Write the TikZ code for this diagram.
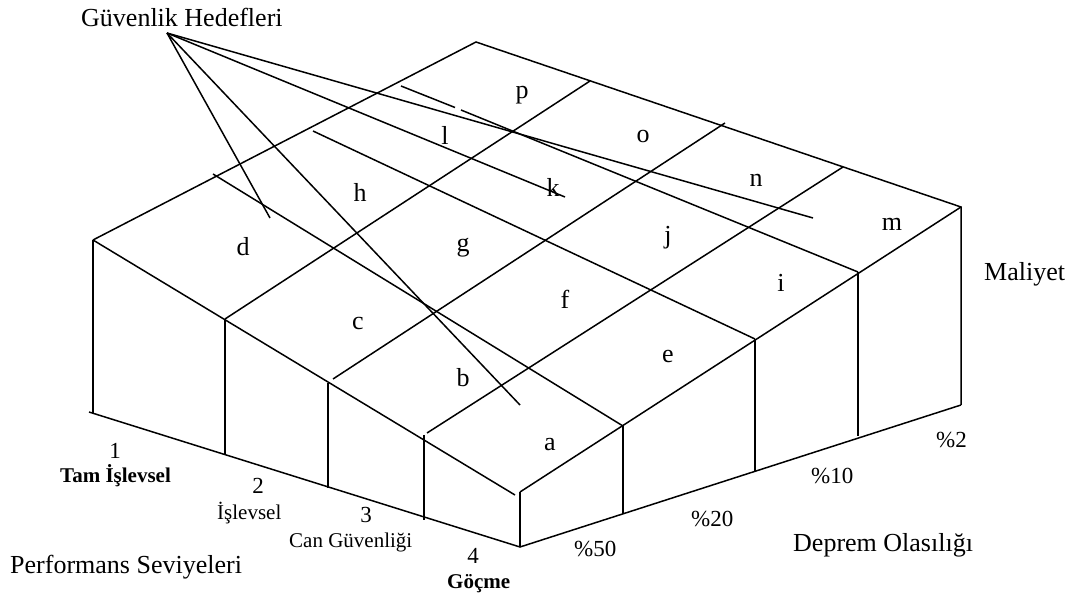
\documentclass[tikz,border=0pt]{standalone}
\usepackage{fontspec}
\setmainfont{Liberation Serif}
\begin{document}
\begin{tikzpicture}[x=1pt,y=-1pt,
  ln/.style={line width=1.5pt},
  big/.style={font=\fontsize{26}{30}\selectfont, inner sep=0pt},
  cell/.style={font=\fontsize{26}{30}\selectfont, inner sep=0pt, anchor=center},
  num/.style={font=\fontsize{23}{27}\selectfont, inner sep=0pt},
  small/.style={font=\fontsize{21}{25}\selectfont, inner sep=0pt},
  smallb/.style={font=\fontsize{21}{25}\selectfont\bfseries, inner sep=0pt}]
\useasboundingbox (0,0) rectangle (1072,601);
% corners
\coordinate (L) at (93,240);
\coordinate (Lb) at (93,413);
\coordinate (Lb0) at (89,412);
\coordinate (Bk) at (476,42);
\coordinate (R) at (961,207);
\coordinate (Rb) at (961,405);
\coordinate (F) at (520,492);
\coordinate (Fl) at (515,495);
\coordinate (Fb) at (520,547);
% left face verticals
\coordinate (v1t) at (225,319); \coordinate (v1b) at (225,454);
\coordinate (v2t) at (328,383); \coordinate (v2b) at (328,488);
\coordinate (v3t) at (424,435); \coordinate (v3b) at (424,520);
% right face verticals
\coordinate (w1t) at (623,426); \coordinate (w1b) at (623,514);
\coordinate (w2t) at (755,339); \coordinate (w2b) at (755,472);
\coordinate (w3t) at (858,272); \coordinate (w3b) at (858,436);
% grid line ends
\coordinate (p1s) at (225,319); \coordinate (p1e) at (590,81);
\coordinate (p2s) at (333,379); \coordinate (p2e) at (725,123);
\coordinate (p3s) at (427,433); \coordinate (p3e) at (843,167);
\coordinate (q1s) at (213,174); \coordinate (q1e) at (623,426);
\coordinate (q2s) at (313,131); \coordinate (q2e) at (755,339);
\coordinate (q3s) at (401,86);  \coordinate (q3g1) at (455,107.5);
\coordinate (q3g2) at (461,110); \coordinate (q3e) at (858,272);
% leader lines
\coordinate (apex) at (167,33);
\coordinate (tA) at (270,218);
\coordinate (tB) at (520,405);
\coordinate (tC) at (565,197);
\coordinate (tD) at (813,218);

% outline
\draw[ln] (L) -- (Bk) -- (R) -- (Rb);
\draw[ln] (L) -- (Lb);
\draw[ln] (L) -- (Fl);
\draw[ln] (F) -- (R);
\draw[ln] (F) -- (Fb);
\draw[ln] (Lb0) -- (Fb) -- (Rb);
\draw[ln] (v1t) -- (v1b);
\draw[ln] (v2t) -- (v2b);
\draw[ln] (v3t) -- (v3b);
\draw[ln] (w1t) -- (w1b);
\draw[ln] (w2t) -- (w2b);
\draw[ln] (w3t) -- (w3b);
% grid
\draw[ln] (p1s) -- (p1e);
\draw[ln] (p2s) -- (p2e);
\draw[ln] (p3s) -- (p3e);
\draw[ln] (q1s) -- (q1e);
\draw[ln] (q2s) -- (q2e);
\draw[ln] (q3s) -- (q3g1);
\draw[ln] (q3g2) -- (q3e);
% leaders
\draw[ln] (apex) -- (tA);
\draw[ln] (apex) -- (tB);
\draw[ln] (apex) -- (tC);
\draw[ln] (apex) -- (tD);

% cell labels
\node[cell] (a) at (550,445) {a};
\node[cell] (b) at (463,378) {b};
\node[cell] (c) at (358,324) {c};
\node[cell] (d) at (243,247) {d};
\node[cell] (e) at (668,357) {e};
\node[cell] (f) at (565,299) {f};
\node[cell] (g) at (463,248) {g};
\node[cell] (h) at (360,192) {h};
\node[cell] (i) at (781,283) {i};
\node[cell] (j) at (668,238) {j};
\node[cell] (k) at (553,187) {k};
\node[cell] (l) at (445,135) {l};
\node[cell] (m) at (892,224) {m};
\node[cell] (n) at (756,180) {n};
\node[cell] (o) at (643,137) {o};
\node[cell] (p) at (522,95) {p};

% texts
\node[big, anchor=base west] (gh) at (81,27) {Güvenlik Hedefleri};
\node[big, anchor=base west] (mal) at (984,281) {Maliyet};
\node[big, anchor=base west] (perf) at (10,574) {Performans Seviyeleri};
\node[big, anchor=base west] (dep) at (793,552) {Deprem Olasılığı};
\node[num, anchor=base west] (p2) at (936,448) {\%2};
\node[num, anchor=base west] (p10) at (811,484) {\%10};
\node[num, anchor=base west] (p20) at (691,527) {\%20};
\node[num, anchor=base west] (p50) at (574,557) {\%50};
\node[num, anchor=base] (n1) at (115,459) {1};
\node[num, anchor=base] (n2) at (258,494) {2};
\node[num, anchor=base] (n3) at (366,523) {3};
\node[num, anchor=base] (n4) at (473,564) {4};
\node[smallb, anchor=base west] (t1) at (60,483) {Tam İşlevsel};
\node[small, anchor=base west] (t2) at (217,520) {İşlevsel};
\node[small, anchor=base west] (t3) at (289,548) {Can Güvenliği};
\node[smallb, anchor=base west] (t4) at (447,589) {Göçme};
\end{tikzpicture}
\end{document}
